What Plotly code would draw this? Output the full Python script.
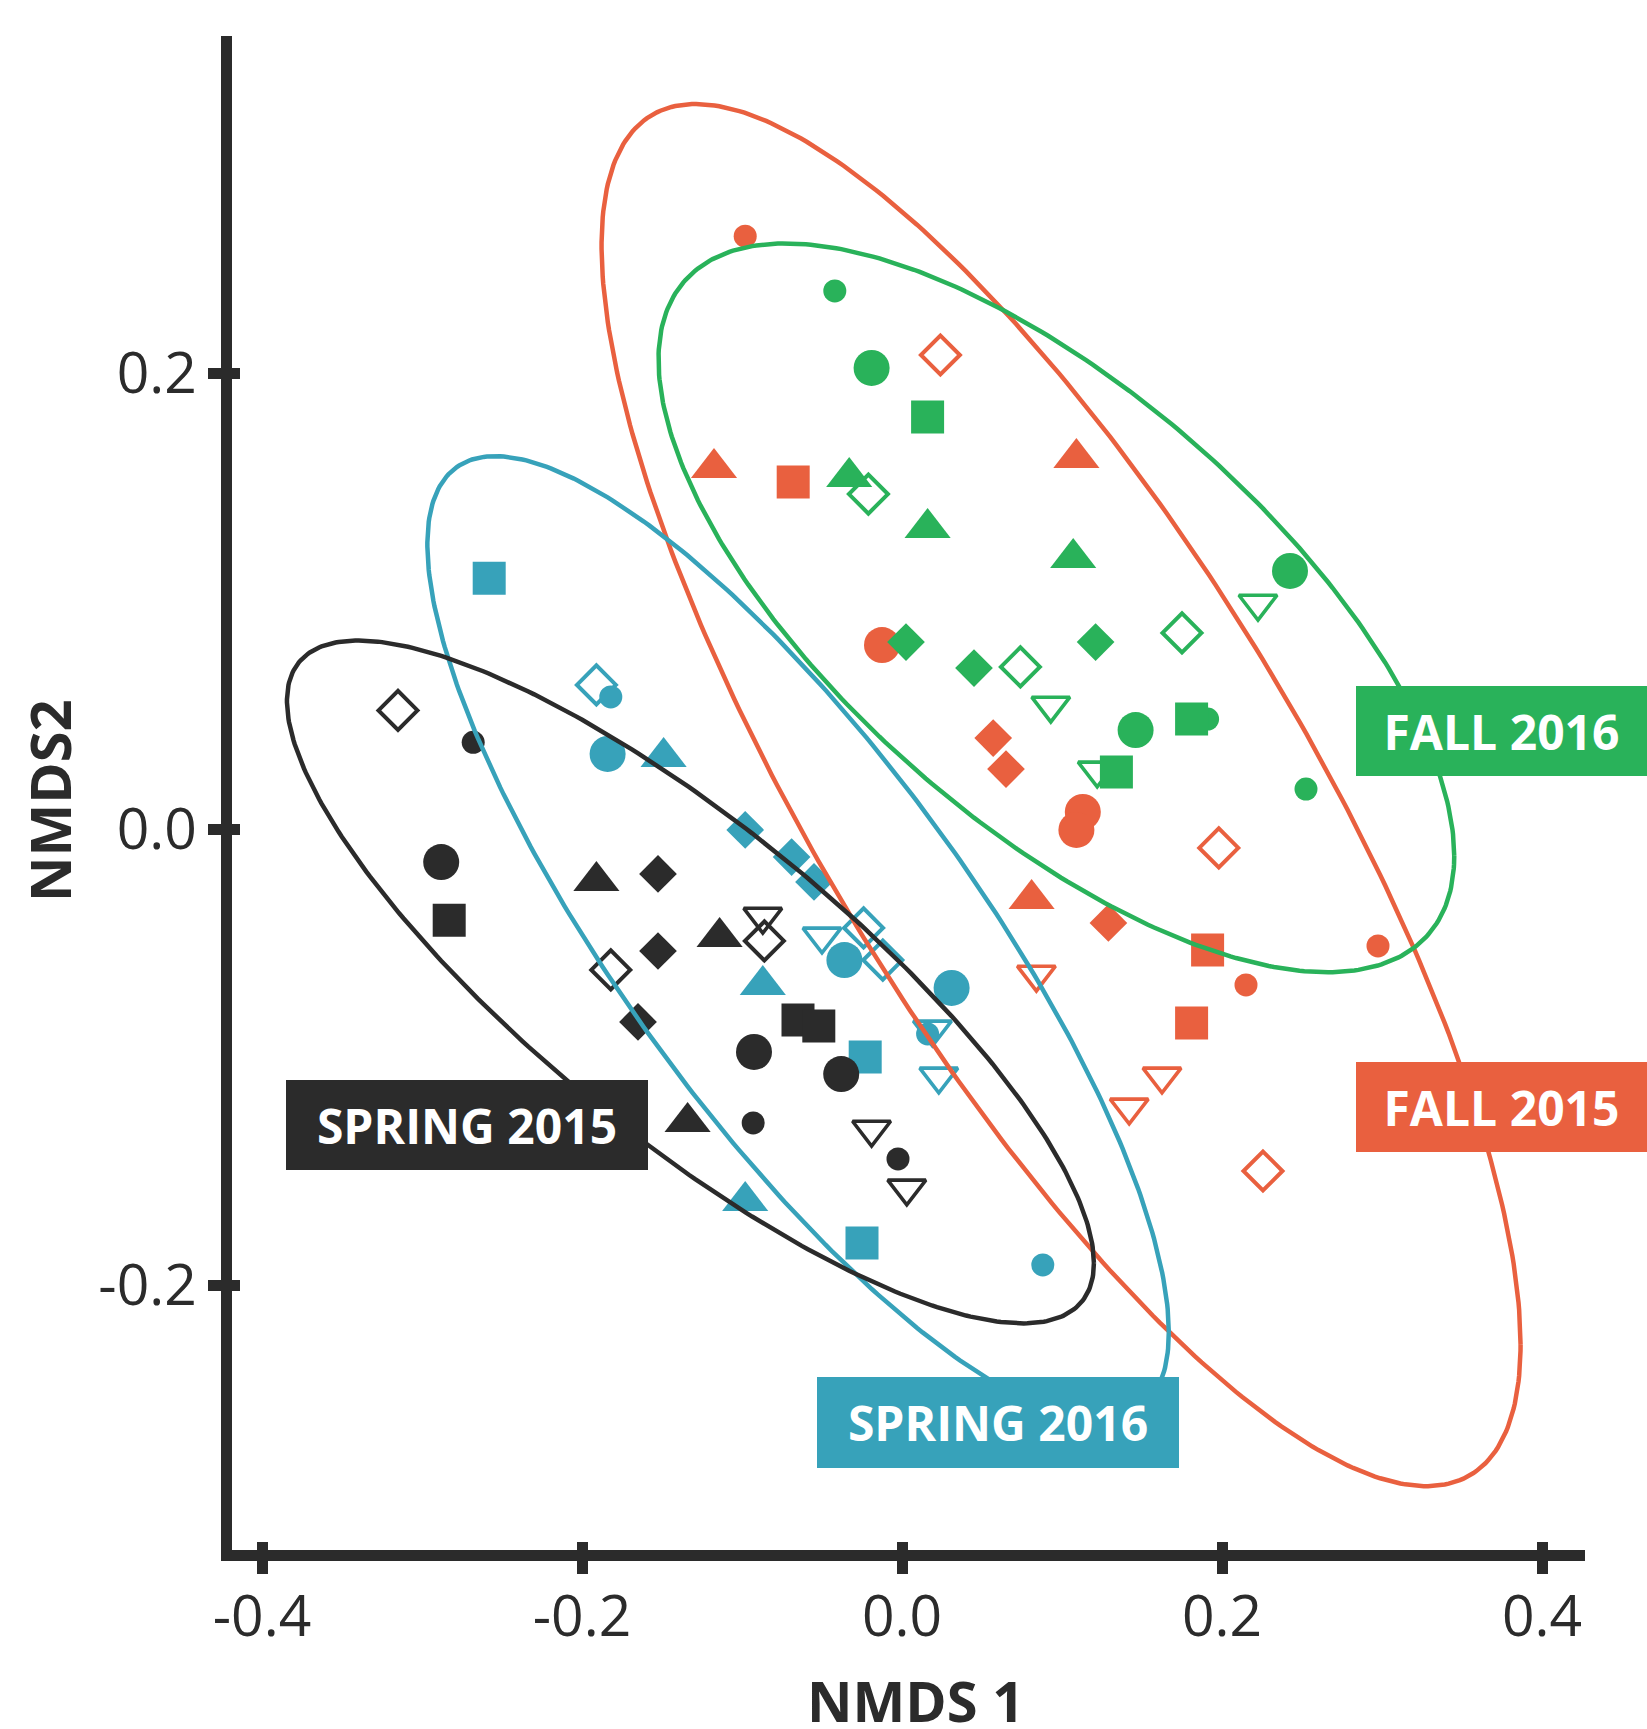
import numpy as np
import plotly.graph_objects as go

# ---------------- data (NMDS scores) ----------------
# site codes: bc = large circle, sc = small circle, sq = square, tu = triangle,
#             fd = filled diamond, od = open diamond, td = open down-triangle
spring2015_x = [-0.315, -0.268, -0.288, -0.283, -0.191, -0.1525, -0.1525, -0.114, -0.182, -0.087, -0.086,
                -0.165, -0.065, -0.052, -0.0925, -0.038, -0.134, -0.093, -0.019, -0.0025, 0.003]
spring2015_y = [0.052, 0.038, -0.0145, -0.040, -0.0228, -0.0197, -0.0535, -0.0474, -0.0618, -0.0384, -0.0491,
                -0.0846, -0.0838, -0.0864, -0.0978, -0.1075, -0.1285, -0.1289, -0.1318, -0.1447, -0.1576]
spring2015_site = ["od", "sc", "bc", "sq", "tu", "fd", "fd", "tu", "od", "td", "od",
                   "fd", "sq", "sq", "bc", "bc", "tu", "sc", "td", "sc", "td"]

spring2016_x = [-0.258, -0.191, -0.182, -0.184, -0.149, -0.098, -0.069, -0.055, -0.050, -0.024, -0.012,
                -0.036, -0.087, 0.031, 0.019, 0.016, -0.023, 0.023, -0.098, -0.025, 0.088]
spring2016_y = [0.110, 0.0632, 0.0579, 0.0329, 0.0316, -0.0004, -0.0123, -0.0232, -0.0471, -0.0434, -0.0575,
                -0.0575, -0.0684, -0.0697, -0.0879, -0.0899, -0.100, -0.1085, -0.1632, -0.1816, -0.1912]
spring2016_site = ["sq", "od", "sc", "bc", "tu", "fd", "fd", "fd", "td", "od", "od",
                   "bc", "tu", "bc", "td", "sc", "sq", "td", "tu", "sq", "sc"]

fall2016_x = [-0.042, -0.019, 0.016, -0.033, -0.021, 0.016, 0.107, 0.0025, 0.045, 0.074, 0.121,
              0.2425, 0.2225, 0.175, 0.093, 0.146, 0.181, 0.191, 0.122, 0.134, 0.2525]
fall2016_y = [0.236, 0.2022, 0.1807, 0.1544, 0.1469, 0.132, 0.1189, 0.082, 0.0706, 0.0711, 0.082,
              0.1132, 0.0989, 0.086, 0.0542, 0.0434, 0.0482, 0.0482, 0.0257, 0.025, 0.0175]
fall2016_site = ["sc", "bc", "sq", "tu", "od", "tu", "tu", "fd", "fd", "od", "fd",
                 "bc", "td", "od", "td", "bc", "sq", "sc", "td", "sq", "sc"]

fall2015_x = [-0.098, 0.024, -0.1175, -0.068, 0.109, -0.0125, 0.057, 0.065, 0.113, 0.109, 0.198,
              0.081, 0.129, 0.084, 0.191, 0.215, 0.2975, 0.181, 0.1625, 0.142, 0.2256]
fall2015_y = [0.260, 0.2079, 0.1583, 0.1522, 0.1627, 0.0807, 0.0399, 0.0263, 0.0075, -0.0004, -0.0083,
              -0.0307, -0.0412, -0.0638, -0.0531, -0.0684, -0.0513, -0.0851, -0.1085, -0.1221, -0.150]
fall2015_site = ["sc", "od", "tu", "sq", "tu", "bc", "fd", "fd", "bc", "bc", "od",
                 "tu", "fd", "td", "sq", "sc", "sc", "sq", "td", "td", "od"]

season_names = ["FALL 2015", "FALL 2016", "SPRING 2016", "SPRING 2015"]
season_colors = ["#e9603f", "#29b25a", "#37a2ba", "#2b2b2b"]

x_ticks = [-0.4, -0.2, 0.0, 0.2, 0.4]
x_tick_labels = ["-0.4", "-0.2", "0.0", "0.2", "0.4"]
y_ticks = [-0.2, 0.0, 0.2]
y_tick_labels = ["-0.2", "0.0", "0.2"]

# ---------------- styling ----------------
INK = "#2b2b2b"
FONT = "Open Sans"
symbol_map = {"bc": "circle", "sc": "circle", "sq": "square", "tu": "triangle-up",
              "fd": "diamond", "od": "diamond-open", "td": "triangle-down-open"}
size_map = {"bc": 36, "sc": 23, "sq": 33, "tu": 40, "fd": 29, "od": 30, "td": 33}
line_map = {"bc": 0, "sc": 0, "sq": 0, "tu": 0, "fd": 0, "od": 4, "td": 3.6}
draw_order = ["td", "tu", "od", "sc", "bc", "fd", "sq"]

series = {
    "FALL 2015": (fall2015_x, fall2015_y, fall2015_site),
    "FALL 2016": (fall2016_x, fall2016_y, fall2016_site),
    "SPRING 2016": (spring2016_x, spring2016_y, spring2016_site),
    "SPRING 2015": (spring2015_x, spring2015_y, spring2015_site),
}


def conf_ellipse(x, y, level=0.95, n=400):
    pts = np.column_stack([x, y])
    center = pts.mean(axis=0)
    cov = np.cov(pts.T)
    dfd = len(x) - 1
    fq = (dfd / 2.0) * ((1 - level) ** (-2.0 / dfd) - 1)  # qf(level, 2, dfd)
    radius = np.sqrt(2 * fq)
    t = np.linspace(0, 2 * np.pi, n)
    circ = np.column_stack([np.cos(t), np.sin(t)])
    L = np.linalg.cholesky(cov)
    e = center + radius * circ @ L.T
    return e[:, 0], e[:, 1]


fig = go.Figure()

for name, color in zip(season_names, season_colors):
    xs, ys, sites = series[name]
    idx = sorted(range(len(xs)), key=lambda i: draw_order.index(sites[i]))
    fig.add_trace(go.Scatter(
        x=[xs[i] for i in idx], y=[ys[i] for i in idx], mode="markers",
        marker=dict(symbol=[symbol_map[sites[i]] for i in idx],
                    size=[size_map[sites[i]] for i in idx],
                    color=color, opacity=1,
                    line=dict(color=color, width=[line_map[sites[i]] for i in idx])),
        hoverinfo="skip", showlegend=False))

for name, color in zip(season_names, season_colors):
    xs, ys, _ = series[name]
    ex, ey = conf_ellipse(xs, ys)
    fig.add_trace(go.Scatter(x=ex, y=ey, mode="lines", line=dict(color=color, width=4.5),
                             hoverinfo="skip", showlegend=False))

# dummy trace for overlay axes carrying the inner half of the tick marks
fig.add_trace(go.Scatter(x=[None], y=[None], xaxis="x2", yaxis="y2", showlegend=False))

XR = [-0.41875, 0.426875]
YR = [-0.31623, 0.34781]

FW, FH = 1647, 1729
ML, MR, MT, MB = 232, 62, 36, 179
LW = 10.5

fig.update_layout(
    template="none",
    width=FW, height=FH,
    margin=dict(l=ML, r=MR, t=MT, b=MB, autoexpand=False),
    plot_bgcolor="white", paper_bgcolor="white",
    showlegend=False,
    font=dict(family=FONT, color=INK),
    xaxis=dict(range=XR, tickvals=x_ticks, ticktext=x_tick_labels, automargin=False,
               showgrid=False, zeroline=False, showline=True, linewidth=LW, linecolor=INK,
               ticks="outside", ticklen=13, tickwidth=LW, tickcolor=INK, ticklabelstandoff=-6,
               tickfont=dict(family=FONT, size=57, color=INK)),
    yaxis=dict(range=YR, tickvals=y_ticks, ticktext=y_tick_labels, automargin=False,
               showgrid=False, zeroline=False, showline=True, linewidth=LW, linecolor=INK,
               ticks="outside", ticklen=13, tickwidth=LW, tickcolor=INK,
               tickfont=dict(family=FONT, size=57, color=INK)),
    xaxis2=dict(range=XR, overlaying="x", anchor="y2", side="bottom", tickvals=x_ticks, automargin=False,
                showticklabels=False, showgrid=False, zeroline=False, showline=False,
                ticks="inside", ticklen=8, tickwidth=LW, tickcolor=INK),
    yaxis2=dict(range=YR, overlaying="y", anchor="x2", side="left", tickvals=y_ticks, automargin=False,
                showticklabels=False, showgrid=False, zeroline=False, showline=False,
                ticks="inside", ticklen=8, tickwidth=LW, tickcolor=INK),
)

PW, PH = FW - ML - MR, FH - MT - MB


def px_to_paper(px, py):
    return (px - ML) / PW, (FH - MB - py) / PH


# axis titles (centre positions in page pixels)
tx, ty = px_to_paper(916, 1700)
fig.add_annotation(text="NMDS 1", xref="paper", yref="paper", x=tx, y=ty,
                   xanchor="center", yanchor="middle", showarrow=False,
                   font=dict(family=FONT, size=56, color=INK, weight=700))
tx, ty = px_to_paper(49, 801)
fig.add_annotation(text="NMDS2", xref="paper", yref="paper", x=tx, y=ty, textangle=-90,
                   xanchor="center", yanchor="middle", showarrow=False,
                   font=dict(family=FONT, size=56, color=INK, weight=700))

# group labels: (text, colour, left px, top px, width px, height px)
label_boxes = [
    ("FALL 2016", "#29b25a", 1356, 686, 291, 90),
    ("FALL 2015", "#e9603f", 1356, 1062, 291, 90),
    ("SPRING 2015", INK, 286, 1080, 362, 90),
    ("SPRING 2016", "#37a2ba", 817, 1377, 362, 91),
]
for text, bg, px, py, w, h in label_boxes:
    bx, by = px_to_paper(px, py)
    fig.add_annotation(
        text=text, xref="paper", yref="paper",
        x=bx, y=by, xanchor="left", yanchor="top",
        showarrow=False, bgcolor=bg, borderpad=0, borderwidth=0, width=w, height=h,
        align="center", valign="middle",
        font=dict(family=FONT, size=48, color="white", weight=700))

fig.write_html("out.html", config={"displayModeBar": False},
               post_script="document.body.style.margin='0px';")
